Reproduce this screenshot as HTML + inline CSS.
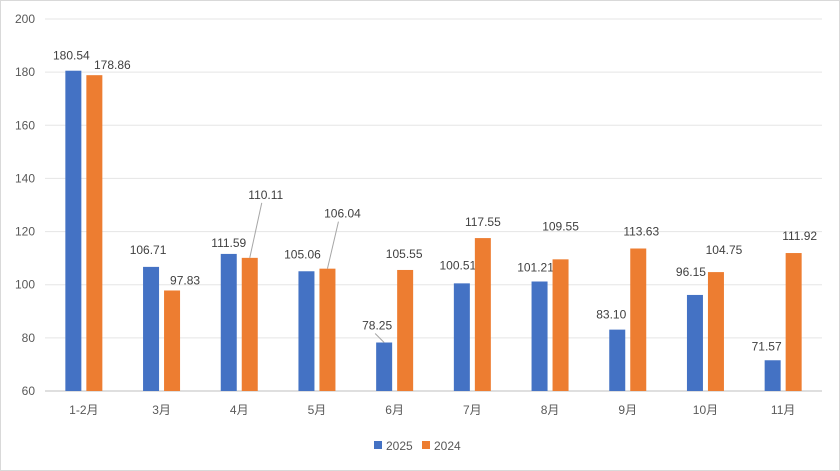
<!DOCTYPE html>
<html><head><meta charset="utf-8"><style>
body{margin:0;background:#fff;}
svg{display:block;font-family:"Liberation Sans","Noto Sans CJK SC",sans-serif;}
</style></head><body>
<svg id="c" width="840" height="471"></svg>
<script>
const categories=["1-2月","3月","4月","5月","6月","7月","8月","9月","10月","11月"];
const series2025=[180.54,106.71,111.59,105.06,78.25,100.51,101.21,83.10,96.15,71.57];
const series2024=[178.86,97.83,110.11,106.04,105.55,117.55,109.55,113.63,104.75,111.92];
const yTicks=[60,80,100,120,140,160,180,200];
const seriesNames=["2025","2024"];
// label offsets from bar top center (dx, dy, leader)
const lab25=[[-2,-11,0],[-3,-13,0],[0,-7,0],[-4,-13,0],[-7,-13,1],[-4,-14,0],[-4,-10,0],[-6,-11,0],[-4,-19,0],[-6,-10,0]];
const lab24=[[18,-6,0],[13,-6,0],[16,-59,1],[15,-51,1],[-1,-12,0],[0,-12,0],[0,-29,0],[3,-13,0],[8,-18,0],[6,-13,0]];
const NS="http://www.w3.org/2000/svg";
const svg=document.getElementById('c');
function mk(t,a,p){const e=document.createElementNS(NS,t);for(const k in a)e.setAttribute(k,a[k]);(p||svg).appendChild(e);return e;}
const x0=45,x1=822,yTop=19,yBot=391,vmin=60,vmax=200;
const y=v=>yBot-(v-vmin)/(vmax-vmin)*(yBot-yTop);
const step=(x1-x0)/categories.length;
const xc=i=>x0+step*(i+0.5);
const bw=16,off=10.5;
let e=mk('rect',{x:0.5,y:0.5,width:839,height:470,fill:'#fff',stroke:'#d9d9d9'});

yTicks.forEach(t=>{
 let g=mk('line',{x1:x0,x2:x1,y1:y(t),y2:y(t),stroke:t===60?'#bfbfbf':'#e5e5e5'});
 
 let l=mk('text',{x:35,y:y(t)+4,'text-anchor':'end','font-size':12,fill:'#595959'});
 l.textContent=t;
 
});
const cols=['#4472c4','#ed7d31'];
categories.forEach((c,i)=>{
 let l=mk('text',{x:xc(i),y:414,'text-anchor':'middle','font-size':12,fill:'#595959'});
 l.textContent=c;
 
 [[series2025,lab25,-off,0],[series2024,lab24,off,1]].forEach(([s,lb,o,k])=>{
  const v=s[i],cx=xc(i)+o,ty=y(v);
  let r=mk('rect',{x:cx-bw/2,y:ty,width:bw,height:yBot-ty,fill:cols[k]});
  
  const lx=cx+lb[i][0],ly=ty+lb[i][1];
  if(lb[i][2]){
   let ln=mk('line',{x1:cx,y1:ty,x2:lx+(ly>ty-20?-2:-4),y2:ly+4,stroke:'#a6a6a6'});
   
  }
  let t=mk('text',{x:lx,y:ly,'text-anchor':'middle','font-size':12,fill:'#404040'});
  t.textContent=v.toFixed(2);
  
 });
});
seriesNames.forEach((n,k)=>{
 const lx=374+k*48;
 let r=mk('rect',{x:lx,y:441,width:8,height:8,fill:cols[k]});
 
 let t=mk('text',{x:lx+12,y:450,'font-size':12,fill:'#595959'});
 t.textContent=n;
 
});
</script>
</body></html>
